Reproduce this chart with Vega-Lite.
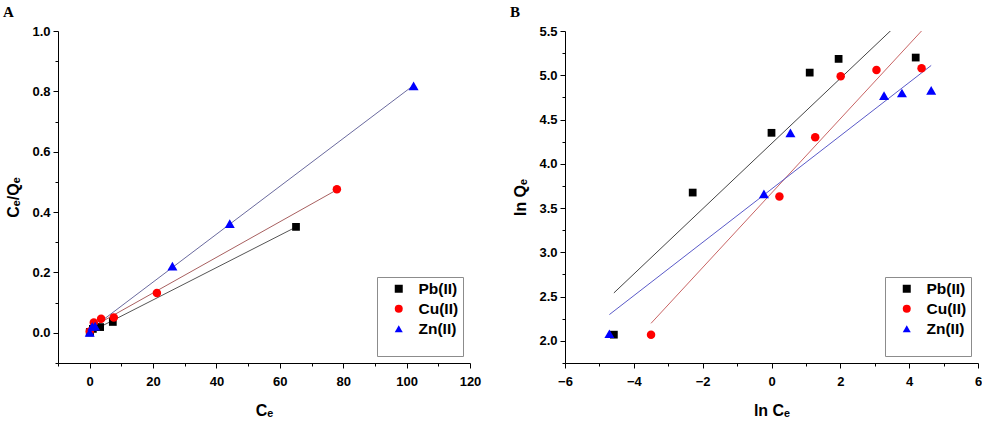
{
  "$schema": "https://vega.github.io/schema/vega-lite/v6.json",
  "padding": {"left": 3, "top": 5, "right": 0, "bottom": 0},
  "background": "white",
  "bounds": "flush",
  "spacing": 95,
  "datasets": {
    "isotherm": [
      {"metal": "Pb(II)", "ce": 0.01, "ratio": 0.001},
      {"metal": "Pb(II)", "ce": 0.10, "ratio": 0.003},
      {"metal": "Pb(II)", "ce": 1.0, "ratio": 0.013},
      {"metal": "Pb(II)", "ce": 3.3, "ratio": 0.019},
      {"metal": "Pb(II)", "ce": 7.3, "ratio": 0.036},
      {"metal": "Pb(II)", "ce": 65.1, "ratio": 0.351},
      {"metal": "Cu(II)", "ce": 0.03, "ratio": 0.004},
      {"metal": "Cu(II)", "ce": 1.3, "ratio": 0.034},
      {"metal": "Cu(II)", "ce": 3.6, "ratio": 0.047},
      {"metal": "Cu(II)", "ce": 7.6, "ratio": 0.051},
      {"metal": "Cu(II)", "ce": 21.2, "ratio": 0.132},
      {"metal": "Cu(II)", "ce": 78.0, "ratio": 0.476},
      {"metal": "Zn(II)", "ce": 0.009, "ratio": 0.001},
      {"metal": "Zn(II)", "ce": 0.8, "ratio": 0.021},
      {"metal": "Zn(II)", "ce": 1.7, "ratio": 0.022},
      {"metal": "Zn(II)", "ce": 26.1, "ratio": 0.221},
      {"metal": "Zn(II)", "ce": 44.2, "ratio": 0.362},
      {"metal": "Zn(II)", "ce": 102.2, "ratio": 0.818}
    ],
    "freundlich": [
      {"metal": "Pb(II)", "lnce": -4.58, "lnqe": 2.07},
      {"metal": "Pb(II)", "lnce": -2.29, "lnqe": 3.675},
      {"metal": "Pb(II)", "lnce": 0.0, "lnqe": 4.35},
      {"metal": "Pb(II)", "lnce": 1.11, "lnqe": 5.03},
      {"metal": "Pb(II)", "lnce": 1.95, "lnqe": 5.185},
      {"metal": "Pb(II)", "lnce": 4.19, "lnqe": 5.20},
      {"metal": "Cu(II)", "lnce": -3.50, "lnqe": 2.07},
      {"metal": "Cu(II)", "lnce": 0.23, "lnqe": 3.63},
      {"metal": "Cu(II)", "lnce": 1.27, "lnqe": 4.30},
      {"metal": "Cu(II)", "lnce": 2.01, "lnqe": 4.99},
      {"metal": "Cu(II)", "lnce": 3.05, "lnqe": 5.06},
      {"metal": "Cu(II)", "lnce": 4.36, "lnqe": 5.08},
      {"metal": "Zn(II)", "lnce": -4.71, "lnqe": 2.08},
      {"metal": "Zn(II)", "lnce": -0.22, "lnqe": 3.66},
      {"metal": "Zn(II)", "lnce": 0.55, "lnqe": 4.35},
      {"metal": "Zn(II)", "lnce": 3.27, "lnqe": 4.77},
      {"metal": "Zn(II)", "lnce": 3.79, "lnqe": 4.80},
      {"metal": "Zn(II)", "lnce": 4.64, "lnqe": 4.83}
    ]
  },
  "hconcat": [
    {
      "width": 412,
      "height": 332,
      "title": {"text": "A", "anchor": "start", "frame": "group", "dx": -55, "offset": 5, "font": "Liberation Serif", "fontSize": 15, "fontWeight": "bold", "color": "#000"},
      "data": {"name": "isotherm"},
      "encoding": {
        "x": {"field": "ce", "type": "quantitative",
          "scale": {"domain": [-10, 120], "nice": false, "zero": false},
          "axis": {"title": "Cₑ", "tickCount": 100, "values": [-10, 0, 10, 20, 30, 40, 50, 60, 70, 80, 90, 100, 110, 120],
            "labelExpr": "datum.value % 20 === 0 ? datum.label : ''", "labelPadding": 7,
            "tickDash": {"condition": {"test": "datum.value % 20 !== 0", "value": [3, 10]}, "value": []},
            "titlePadding": 14}},
        "y": {"field": "ratio", "type": "quantitative",
          "scale": {"domain": [-0.1, 1.0], "nice": false, "zero": false},
          "axis": {"title": "Cₑ/Qₑ", "format": ".1f", "tickCount": 100, "values": [-0.1, 0, 0.1, 0.2, 0.3, 0.4, 0.5, 0.6, 0.7, 0.8, 0.9, 1.0],
            "labelExpr": "abs(round(datum.value * 10)) % 2 === 0 ? datum.label : ''",
            "tickDash": {"condition": {"test": "abs(round(datum.value * 10)) % 2 !== 0", "value": [3, 10]}, "value": []},
            "titlePadding": 10}}
      },
      "layer": [
        {
          "transform": [{"filter": "datum.metal === 'Pb(II)'"}, {"regression": "ratio", "on": "ce"}],
          "mark": {"type": "line", "strokeWidth": 1, "clip": true, "color": "#555555"}
        },
        {
          "transform": [{"filter": "datum.metal === 'Cu(II)'"}, {"regression": "ratio", "on": "ce"}],
          "mark": {"type": "line", "strokeWidth": 1, "clip": true, "color": "#a86060"}
        },
        {
          "transform": [{"filter": "datum.metal === 'Zn(II)'"}, {"regression": "ratio", "on": "ce"}],
          "mark": {"type": "line", "strokeWidth": 1, "clip": true, "color": "#6a6a9e"}
        },
        {
          "transform": [{"filter": "datum.metal === 'Pb(II)'"}],
          "mark": {"type": "point", "filled": true, "size": 60, "opacity": 1},
          "encoding": {
            "color": {"field": "metal", "type": "nominal", "scale": {"domain": ["Pb(II)", "Cu(II)", "Zn(II)"], "range": ["#000000", "#ff0000", "#0000ff"]},
              "legend": {"orient": "bottom-right", "offset": 7, "title": "\u00a0", "titleOrient": "bottom", "titleFontSize": 11, "titlePadding": 4, "strokeColor": "#8c8c8c", "padding": 4, "labelFont": "Liberation Sans", "labelFontSize": 15.5, "labelFontWeight": "bold", "labelColor": "#000", "symbolSize": 64, "symbolStrokeWidth": 0, "symbolOffset": 10, "labelOffset": 12, "rowPadding": 3}},
            "shape": {"field": "metal", "type": "nominal", "scale": {"domain": ["Pb(II)", "Cu(II)", "Zn(II)"], "range": ["square", "circle", "triangle-up"]},
              "legend": {"orient": "bottom-right", "offset": 7, "title": "\u00a0", "titleOrient": "bottom", "titleFontSize": 11, "titlePadding": 4, "strokeColor": "#8c8c8c", "padding": 4, "labelFont": "Liberation Sans", "labelFontSize": 15.5, "labelFontWeight": "bold", "labelColor": "#000", "symbolSize": 64, "symbolStrokeWidth": 0, "symbolOffset": 10, "labelOffset": 12, "rowPadding": 3}}
          }
        },
        {
          "transform": [{"filter": "datum.metal === 'Cu(II)'"}],
          "mark": {"type": "point", "filled": true, "size": 72, "opacity": 1},
          "encoding": {
            "color": {"field": "metal", "type": "nominal", "scale": {"domain": ["Pb(II)", "Cu(II)", "Zn(II)"], "range": ["#000000", "#ff0000", "#0000ff"]},
              "legend": {"orient": "bottom-right", "offset": 7, "title": "\u00a0", "titleOrient": "bottom", "titleFontSize": 11, "titlePadding": 4, "strokeColor": "#8c8c8c", "padding": 4, "labelFont": "Liberation Sans", "labelFontSize": 15.5, "labelFontWeight": "bold", "labelColor": "#000", "symbolSize": 64, "symbolStrokeWidth": 0, "symbolOffset": 10, "labelOffset": 12, "rowPadding": 3}},
            "shape": {"field": "metal", "type": "nominal", "scale": {"domain": ["Pb(II)", "Cu(II)", "Zn(II)"], "range": ["square", "circle", "triangle-up"]},
              "legend": {"orient": "bottom-right", "offset": 7, "title": "\u00a0", "titleOrient": "bottom", "titleFontSize": 11, "titlePadding": 4, "strokeColor": "#8c8c8c", "padding": 4, "labelFont": "Liberation Sans", "labelFontSize": 15.5, "labelFontWeight": "bold", "labelColor": "#000", "symbolSize": 64, "symbolStrokeWidth": 0, "symbolOffset": 10, "labelOffset": 12, "rowPadding": 3}}
          }
        },
        {
          "transform": [{"filter": "datum.metal === 'Zn(II)'"}],
          "mark": {"type": "point", "filled": true, "size": 100, "opacity": 1},
          "encoding": {
            "color": {"field": "metal", "type": "nominal", "scale": {"domain": ["Pb(II)", "Cu(II)", "Zn(II)"], "range": ["#000000", "#ff0000", "#0000ff"]},
              "legend": {"orient": "bottom-right", "offset": 7, "title": "\u00a0", "titleOrient": "bottom", "titleFontSize": 11, "titlePadding": 4, "strokeColor": "#8c8c8c", "padding": 4, "labelFont": "Liberation Sans", "labelFontSize": 15.5, "labelFontWeight": "bold", "labelColor": "#000", "symbolSize": 64, "symbolStrokeWidth": 0, "symbolOffset": 10, "labelOffset": 12, "rowPadding": 3}},
            "shape": {"field": "metal", "type": "nominal", "scale": {"domain": ["Pb(II)", "Cu(II)", "Zn(II)"], "range": ["square", "circle", "triangle-up"]},
              "legend": {"orient": "bottom-right", "offset": 7, "title": "\u00a0", "titleOrient": "bottom", "titleFontSize": 11, "titlePadding": 4, "strokeColor": "#8c8c8c", "padding": 4, "labelFont": "Liberation Sans", "labelFontSize": 15.5, "labelFontWeight": "bold", "labelColor": "#000", "symbolSize": 64, "symbolStrokeWidth": 0, "symbolOffset": 10, "labelOffset": 12, "rowPadding": 3}}
          }
        }
      ]
    },
    {
      "width": 413,
      "height": 332,
      "title": {"text": "B", "anchor": "start", "frame": "group", "dx": -55, "offset": 5, "font": "Liberation Serif", "fontSize": 15, "fontWeight": "bold", "color": "#000"},
      "data": {"name": "freundlich"},
      "encoding": {
        "x": {"field": "lnce", "type": "quantitative",
          "scale": {"domain": [-6, 6], "nice": false, "zero": false},
          "axis": {"title": "ln Cₑ", "format": "d", "tickCount": 100, "values": [-6, -5, -4, -3, -2, -1, 0, 1, 2, 3, 4, 5, 6],
            "labelExpr": "abs(datum.value) % 2 === 0 ? datum.label : ''", "labelPadding": 7,
            "tickDash": {"condition": {"test": "abs(datum.value) % 2 !== 0", "value": [3, 10]}, "value": []},
            "titlePadding": 14}},
        "y": {"field": "lnqe", "type": "quantitative",
          "scale": {"domain": [1.75, 5.5], "nice": false, "zero": false},
          "axis": {"title": "ln Qₑ", "format": ".1f", "tickCount": 100, "values": [1.75, 2.0, 2.25, 2.5, 2.75, 3.0, 3.25, 3.5, 3.75, 4.0, 4.25, 4.5, 4.75, 5.0, 5.25, 5.5],
            "labelExpr": "round(datum.value * 4) % 2 === 0 ? datum.label : ''",
            "tickDash": {"condition": {"test": "round(datum.value * 4) % 2 !== 0", "value": [3, 10]}, "value": []},
            "titlePadding": 10}}
      },
      "layer": [
        {
          "transform": [{"filter": "datum.metal === 'Pb(II)'"}, {"regression": "lnqe", "on": "lnce"}],
          "mark": {"type": "line", "strokeWidth": 1, "clip": true, "color": "#444444"}
        },
        {
          "transform": [{"filter": "datum.metal === 'Cu(II)'"}, {"regression": "lnqe", "on": "lnce"}],
          "mark": {"type": "line", "strokeWidth": 1, "clip": true, "color": "#c86464"}
        },
        {
          "transform": [{"filter": "datum.metal === 'Zn(II)'"}, {"regression": "lnqe", "on": "lnce"}],
          "mark": {"type": "line", "strokeWidth": 1, "clip": true, "color": "#5a5ac8"}
        },
        {
          "transform": [{"filter": "datum.metal === 'Pb(II)'"}],
          "mark": {"type": "point", "filled": true, "size": 60, "opacity": 1},
          "encoding": {
            "color": {"field": "metal", "type": "nominal", "scale": {"domain": ["Pb(II)", "Cu(II)", "Zn(II)"], "range": ["#000000", "#ff0000", "#0000ff"]},
              "legend": {"orient": "bottom-right", "offset": 7, "title": "\u00a0", "titleOrient": "bottom", "titleFontSize": 11, "titlePadding": 4, "strokeColor": "#8c8c8c", "padding": 4, "labelFont": "Liberation Sans", "labelFontSize": 15.5, "labelFontWeight": "bold", "labelColor": "#000", "symbolSize": 64, "symbolStrokeWidth": 0, "symbolOffset": 10, "labelOffset": 12, "rowPadding": 3}},
            "shape": {"field": "metal", "type": "nominal", "scale": {"domain": ["Pb(II)", "Cu(II)", "Zn(II)"], "range": ["square", "circle", "triangle-up"]},
              "legend": {"orient": "bottom-right", "offset": 7, "title": "\u00a0", "titleOrient": "bottom", "titleFontSize": 11, "titlePadding": 4, "strokeColor": "#8c8c8c", "padding": 4, "labelFont": "Liberation Sans", "labelFontSize": 15.5, "labelFontWeight": "bold", "labelColor": "#000", "symbolSize": 64, "symbolStrokeWidth": 0, "symbolOffset": 10, "labelOffset": 12, "rowPadding": 3}}
          }
        },
        {
          "transform": [{"filter": "datum.metal === 'Cu(II)'"}],
          "mark": {"type": "point", "filled": true, "size": 72, "opacity": 1},
          "encoding": {
            "color": {"field": "metal", "type": "nominal", "scale": {"domain": ["Pb(II)", "Cu(II)", "Zn(II)"], "range": ["#000000", "#ff0000", "#0000ff"]},
              "legend": {"orient": "bottom-right", "offset": 7, "title": "\u00a0", "titleOrient": "bottom", "titleFontSize": 11, "titlePadding": 4, "strokeColor": "#8c8c8c", "padding": 4, "labelFont": "Liberation Sans", "labelFontSize": 15.5, "labelFontWeight": "bold", "labelColor": "#000", "symbolSize": 64, "symbolStrokeWidth": 0, "symbolOffset": 10, "labelOffset": 12, "rowPadding": 3}},
            "shape": {"field": "metal", "type": "nominal", "scale": {"domain": ["Pb(II)", "Cu(II)", "Zn(II)"], "range": ["square", "circle", "triangle-up"]},
              "legend": {"orient": "bottom-right", "offset": 7, "title": "\u00a0", "titleOrient": "bottom", "titleFontSize": 11, "titlePadding": 4, "strokeColor": "#8c8c8c", "padding": 4, "labelFont": "Liberation Sans", "labelFontSize": 15.5, "labelFontWeight": "bold", "labelColor": "#000", "symbolSize": 64, "symbolStrokeWidth": 0, "symbolOffset": 10, "labelOffset": 12, "rowPadding": 3}}
          }
        },
        {
          "transform": [{"filter": "datum.metal === 'Zn(II)'"}],
          "mark": {"type": "point", "filled": true, "size": 100, "opacity": 1},
          "encoding": {
            "color": {"field": "metal", "type": "nominal", "scale": {"domain": ["Pb(II)", "Cu(II)", "Zn(II)"], "range": ["#000000", "#ff0000", "#0000ff"]},
              "legend": {"orient": "bottom-right", "offset": 7, "title": "\u00a0", "titleOrient": "bottom", "titleFontSize": 11, "titlePadding": 4, "strokeColor": "#8c8c8c", "padding": 4, "labelFont": "Liberation Sans", "labelFontSize": 15.5, "labelFontWeight": "bold", "labelColor": "#000", "symbolSize": 64, "symbolStrokeWidth": 0, "symbolOffset": 10, "labelOffset": 12, "rowPadding": 3}},
            "shape": {"field": "metal", "type": "nominal", "scale": {"domain": ["Pb(II)", "Cu(II)", "Zn(II)"], "range": ["square", "circle", "triangle-up"]},
              "legend": {"orient": "bottom-right", "offset": 7, "title": "\u00a0", "titleOrient": "bottom", "titleFontSize": 11, "titlePadding": 4, "strokeColor": "#8c8c8c", "padding": 4, "labelFont": "Liberation Sans", "labelFontSize": 15.5, "labelFontWeight": "bold", "labelColor": "#000", "symbolSize": 64, "symbolStrokeWidth": 0, "symbolOffset": 10, "labelOffset": 12, "rowPadding": 3}}
          }
        }
      ]
    }
  ],
  "resolve": {
    "scale": {"color": "independent", "shape": "independent"},
    "legend": {"color": "independent", "shape": "independent"}
  },
  "config": {
    "view": {"stroke": null},
    "font": "Liberation Sans",
    "axis": {"grid": false, "domainColor": "#000", "domainWidth": 1, "tickColor": "#000", "tickWidth": 1, "tickSize": 5,
      "labelFont": "Liberation Sans", "labelFontWeight": "bold", "labelFontSize": 13, "labelColor": "#000", "labelPadding": 3,
      "labelFlush": false, "labelBound": false, "labelOverlap": false,
      "titleFont": "Liberation Sans", "titleFontWeight": "bold", "titleFontSize": 16, "titleColor": "#000"}
  }
}
